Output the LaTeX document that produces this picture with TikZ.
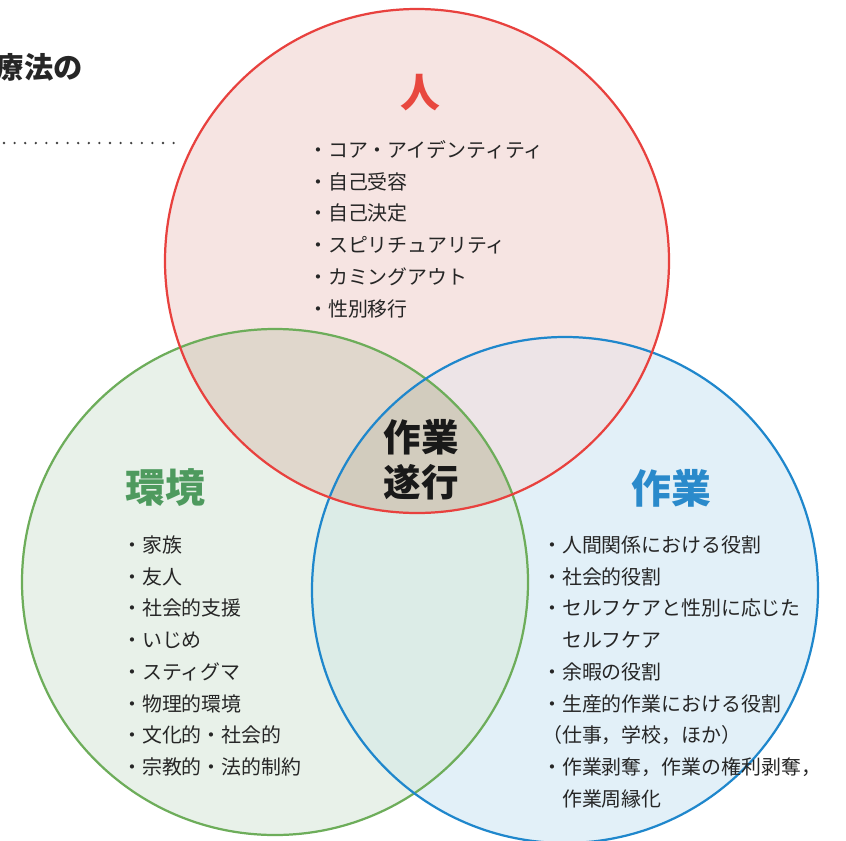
\documentclass[tikz,border=0pt]{standalone}
\usepackage{fontspec}
\newfontfamily\jp{Noto Sans CJK JP}
\definecolor{redline}{HTML}{E8413E}
\definecolor{greenline}{HTML}{6DAD5A}
\definecolor{blueline}{HTML}{1F87CC}
\definecolor{redfill}{HTML}{F6E4E2}
\definecolor{greenfill}{HTML}{E8F1E9}
\definecolor{bluefill}{HTML}{E2F0F8}
\definecolor{rgfill}{HTML}{E0D7CC}
\definecolor{rbfill}{HTML}{EDE4E7}
\definecolor{gbfill}{HTML}{DCECE7}
\definecolor{allfill}{HTML}{D2CCBE}
\definecolor{redtitle}{HTML}{E8483F}
\definecolor{greentitle}{HTML}{4E9A5E}
\definecolor{bluetitle}{HTML}{2A8ACB}
\definecolor{bodytext}{HTML}{262626}
\begin{document}
\begin{tikzpicture}[x=0.03cm,y=-0.03cm,
  ring/.style={line width=1.9pt},
  title/.style={inner sep=0pt, font=\jp\bfseries\fontsize{34}{38}\selectfont},
  item/.style={inner sep=0pt, anchor=west, text=bodytext, font=\jp\fontsize{17}{27}\selectfont},
  dotmark/.style={fill=black!75}]
\useasboundingbox (0,0) rectangle (846,840);
\fill[white] (0,0) rectangle (846,840);
% circle geometry
\def\RC{(417,261) circle[radius=252]}
\def\GC{(275,582) circle[radius=253]}
\def\BC{(565,590) circle[radius=253]}
% fills
\fill[redfill] \RC;
\fill[greenfill] \GC;
\fill[bluefill] \BC;
\begin{scope}\clip \RC; \fill[rgfill] \GC; \end{scope}
\begin{scope}\clip \RC; \fill[rbfill] \BC; \end{scope}
\begin{scope}\clip \GC; \fill[gbfill] \BC; \end{scope}
\begin{scope}\clip \RC; \clip \GC; \fill[allfill] \BC; \end{scope}
% outlines
\draw[ring, greenline] \GC;
\draw[ring, blueline] \BC;
\draw[ring, redline] \RC;
% top-left cut-off heading and dotted rule
\node[anchor=east, inner sep=0pt, text=black!85, font=\jp\bfseries\fontsize{25}{28}\selectfont] (head) at (83,67) {療法の};
\foreach \k in {0,...,16} \fill[dotmark] (4+10.6*\k,143) circle[radius=1.3];
% titles
\node[title, text=redtitle] (person) at (420,93) {人};
\node[title, text=greentitle] (env) at (165,488) {環境};
\node[title, text=bluetitle] (occ) at (671,488) {作業};
\node[title, text=black!90, align=center, font=\jp\bfseries\fontsize{32}{38.5}\selectfont] (perf) at (421,460) {作業\\遂行};
% person list
\foreach \t [count=\i] in {・コア・アイデンティティ,・自己受容,・自己決定,・スピリチュアリティ,・カミングアウト,・性別移行}
  \node[item] (p\i) at (308,{150+31.7*(\i-1)}) {\t};
% environment list
\foreach \t [count=\i] in {・家族,・友人,・社会的支援,・いじめ,・スティグマ,・物理的環境,・文化的・社会的,・宗教的・法的制約}
  \node[item] (e\i) at (122,{545+31.7*(\i-1)}) {\t};
% occupation list
\foreach \t [count=\i] in {・人間関係における役割,・社会的役割,・セルフケアと性別に応じた,\phantom{・}セルフケア,・余暇の役割,・生産的作業における役割,{（仕事，学校，ほか）},{・作業剥奪，作業の権利剥奪，},\phantom{・}作業周縁化}
  \node[item] (o\i) at (542,{545+31.7*(\i-1)}) {\t};
\end{tikzpicture}
\end{document}
